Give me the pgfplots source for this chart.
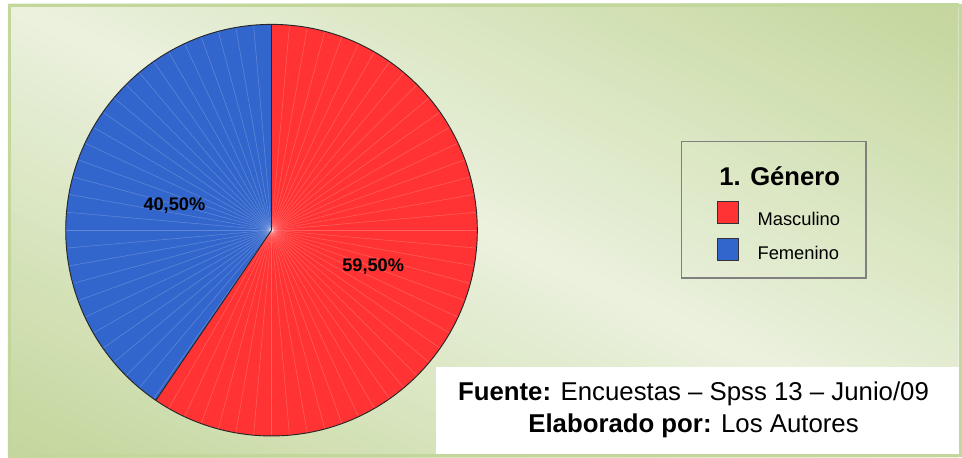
\documentclass[border=0pt]{standalone}
\usepackage{fontspec}
\setmainfont{Liberation Sans}
\usepackage{pgfplots}
\pgfplotsset{compat=1.18}

\definecolor{pieRed}{HTML}{FF3333}
\definecolor{pieBlue}{HTML}{3366CC}
\definecolor{bgGreen}{HTML}{C3D69B}
\definecolor{bgLight}{HTML}{EBF1DE}
\definecolor{frameGreen}{HTML}{C3D69B}

% shares (%)
\def\pMasc{59.5}
\def\pFem{40.5}
\pgfmathsetmacro{\angEnd}{90-3.6*\pMasc}
% pie radius, 1 px = 0.75pt
\def\R{154.9pt}

\begin{document}
\begin{tikzpicture}
% background: white page, diagonal green-light-green gradient in strips
\fill[white] (0,0) rectangle (721.5pt,344.25pt);
\begin{scope}[shift={(0,344.25pt)}, x=721.5pt, y=-344.25pt]
  \clip (8/962,4/459) rectangle (1,1);
  \foreach \i in {0,...,79}{
    \pgfmathsetmacro{\da}{-1+\i*0.025}
    \pgfmathsetmacro{\db}{\da+0.027}
    \pgfmathsetmacro{\t}{min(abs(\da+0.0125),1)*100}
    \fill[bgGreen!\t!bgLight] (-1,-1+\da) -- (2,2+\da) -- (2,2+\db) -- (-1,-1+\db) -- cycle;
  }
\end{scope}

\begin{axis}[
    scale only axis,
    width=721.5pt, height=344.25pt,
    xmin=0, xmax=962, ymin=0, ymax=459,
    y dir=reverse,
    hide axis,
    clip=false,
]
% frame
\draw[frameGreen, line width=2.2pt] (axis cs:9.5,5.5) rectangle (axis cs:964,457.5);

% pie slices
\fill[pieRed] (axis cs:272.5,231) -- ++(90:\R) arc[start angle=90, end angle=\angEnd, radius=\R] -- cycle;
\fill[pieBlue] (axis cs:272.5,231) -- ++(\angEnd:\R) arc[start angle=\angEnd, end angle=-270, radius=\R] -- cycle;
\pgfplotsinvokeforeach{0,5,...,355}{
    \draw[white, opacity=0.22, line width=0.4pt] (axis cs:272.5,231) -- ++(#1:\R);
}
\draw[black!85, line width=0.7pt] (axis cs:272.5,231) circle[radius=\R];
\draw[black!85, line width=0.7pt] (axis cs:272.5,231) -- ++(90:\R);
\draw[black!85, line width=0.7pt] (axis cs:272.5,231) -- ++(\angEnd:\R);

% slice labels
\node[anchor=base, font=\fontsize{13.7}{16}\selectfont\bfseries] at (axis cs:175,211) {40,50\%};
\node[anchor=base, font=\fontsize{13.7}{16}\selectfont\bfseries] at (axis cs:374.5,272) {59,50\%};

% legend
\draw[black!50, line width=1.1pt] (axis cs:684,142) rectangle (axis cs:869,279);
\node[anchor=base, font=\fontsize{19.3}{22}\selectfont\bfseries] at (axis cs:782.5,186) {1. Género};
\draw[black!80, fill=pieRed, line width=0.5pt] (axis cs:720,202) rectangle (axis cs:741,224);
\draw[black!80, fill=pieBlue, line width=0.5pt] (axis cs:720,239) rectangle (axis cs:741,261);
\node[anchor=base west, inner sep=0pt, font=\fontsize{13.8}{16}\selectfont] at (axis cs:760,226) {Masculino};
\node[anchor=base west, inner sep=0pt, font=\fontsize{13.8}{16}\selectfont] at (axis cs:760,260) {Femenino};

% source box
\fill[white] (axis cs:438,368) rectangle (axis cs:962,456);
\node[anchor=base, inner sep=0pt, font=\fontsize{19.4}{22}\selectfont] at (axis cs:696,402) {\textbf{Fuente:} Encuestas – Spss 13 – Junio/09};
\node[anchor=base, inner sep=0pt, font=\fontsize{19.4}{22}\selectfont] at (axis cs:696,434) {\textbf{Elaborado por:} Los Autores};
\end{axis}
\end{tikzpicture}
\end{document}
